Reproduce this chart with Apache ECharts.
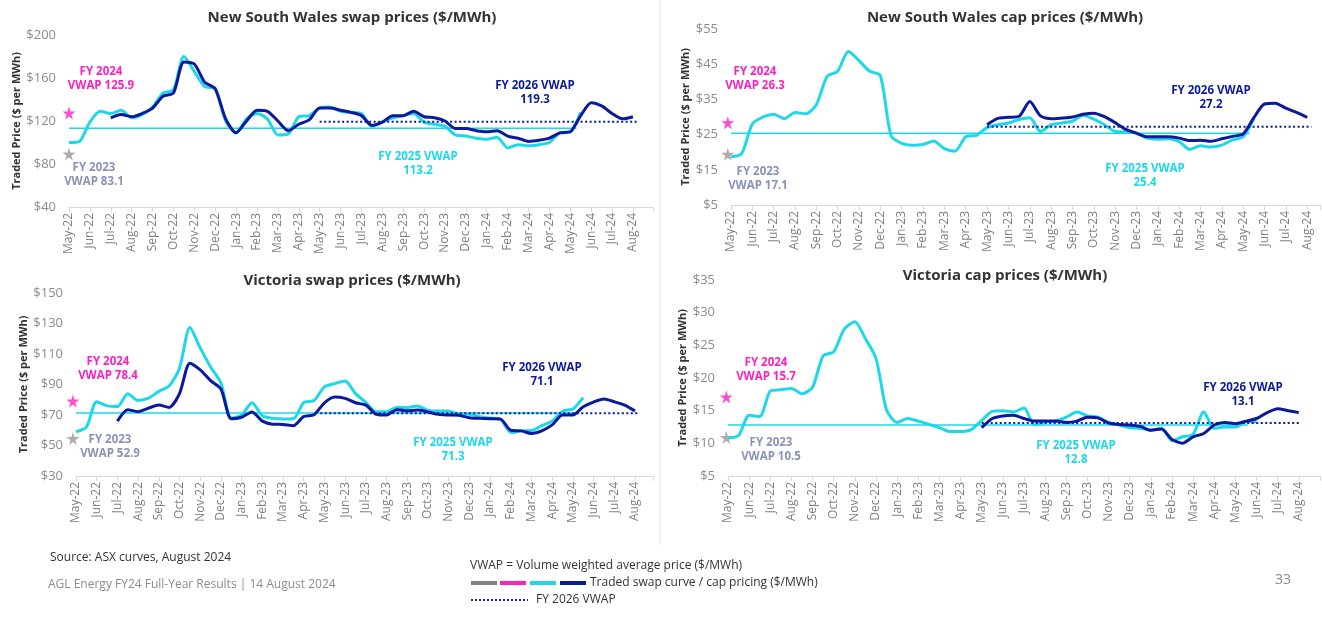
<!DOCTYPE html>
<html>
<head>
<meta charset="utf-8">
<script src="https://cdn.jsdelivr.net/npm/echarts@6/dist/echarts.min.js"></script>
<style>
  html, body { margin: 0; padding: 0; background: #fff; }
  #main { width: 1322px; height: 619px; }
</style>
</head>
<body>
<div id="main"></div>
<script>
// month tick labels, one per month (x = month index, data every half month)
const months = ['May-22', 'Jun-22', 'Jul-22', 'Aug-22', 'Sep-22', 'Oct-22', 'Nov-22', 'Dec-22',
  'Jan-23', 'Feb-23', 'Mar-23', 'Apr-23', 'May-23', 'Jun-23', 'Jul-23', 'Aug-23', 'Sep-23', 'Oct-23',
  'Nov-23', 'Dec-23', 'Jan-24', 'Feb-24', 'Mar-24', 'Apr-24', 'May-24', 'Jun-24', 'Jul-24', 'Aug-24']

// FY2025 curves start May-22, FY2026 curves start at fy26Start (month index)
const nswSwapFy25 = [100, 101, 119, 129, 127, 130, 123, 126, 133, 146, 149, 180, 166, 152, 150, 120, 109, 122, 127, 122,
  107, 108, 124, 125, 132, 133, 129, 128, 127, 115, 119, 123, 125, 127, 119, 117, 115, 107, 106, 104,
  103, 105, 95, 98, 97, 98, 100, 109, 110, 128]
const nswSwapFy26 = [123, 126, 124, 127, 132, 143, 146, 175, 173, 156, 150, 122, 109, 120, 130, 129, 120, 111, 117, 121,
  132, 132, 130, 128, 125, 116, 119, 125, 125, 129, 124, 123, 120, 113, 113, 111, 110, 111, 106, 104,
  101, 102, 104, 109, 110, 125, 137, 134, 127, 122, 124]
const nswCapFy25 = [18.7, 19.6, 28.0, 30.0, 30.8, 29.5, 31.3, 30.9, 33.5, 41.5, 43.0, 48.6, 46.0, 43.0, 41.7, 24.7, 22.5,
  22.0, 22.2, 23.2, 21.0, 20.3, 24.4, 24.8, 27.0, 27.8, 28.3, 29.3, 29.8, 25.9, 27.8, 28.3, 28.8, 30.5,
  29.4, 27.8, 25.9, 25.8, 25.4, 24.0, 23.7, 23.8, 23.0, 20.8, 21.8, 21.5, 22.0, 23.5, 24.4, 29.5]
const nswCapFy26 = [27.8, 29.6, 29.9, 30.2, 34.4, 30.3, 29.5, 29.7, 30.0, 30.8, 31.1, 30.1, 28.4, 26.5, 25.4, 24.4, 24.4,
  24.4, 24.0, 23.3, 23.4, 23.1, 23.8, 24.5, 25.2, 29.8, 33.7, 33.9, 32.5, 31.3, 29.9]
const vicSwapFy25 = [59, 62, 78.7, 76, 75.5, 84, 79.5, 81, 85.5, 89, 100.7, 127.4, 114, 101.5, 91, 68, 70, 78, 69.5, 67.8,
  67.3, 67.5, 78.1, 79.5, 88.5, 90.6, 92.3, 84, 78.3, 72.1, 72.1, 75, 74.8, 75.9, 73, 72.6, 72.6, 70.5,
  70.5, 68.9, 68, 67.3, 58.5, 59.6, 59.8, 63, 66, 72.5, 74, 81.4]
const vicSwapFy26 = [66, 73.5, 72.2, 74.5, 76.5, 75, 84, 104, 99.6, 92.5, 87, 67.5, 68.5, 72, 66, 64, 63.8, 63, 69, 70.2,
  78, 81.8, 80.9, 78, 76.5, 70.5, 70, 73.5, 72.8, 73.2, 72, 70.4, 70, 69.8, 68.2, 67.8, 67.5, 67.3, 60,
  59.6, 57.9, 59.6, 63.5, 70, 70, 75.4, 78.5, 80.5, 78.7, 76.5, 72.6]
const vicCapFy25 = [10.8, 11.2, 14.3, 14.1, 18.0, 18.2, 18.4, 17.6, 18.6, 23.4, 24.0, 27.5, 28.6, 26.0, 23.0, 15.1, 13.2,
  13.8, 13.4, 12.9, 12.4, 11.8, 11.8, 12.1, 13.5, 14.9, 15.0, 14.8, 15.4, 12.8, 13.3, 13.4, 14.0, 14.8,
  14.2, 14.0, 13.2, 12.8, 12.4, 12.3, 12.0, 12.3, 10.4, 11.0, 11.4, 14.8, 12.3, 12.5, 12.5, 13.3, 13.3]
const vicCapFy26 = [12.4, 13.8, 14.2, 14.3, 13.8, 13.4, 13.4, 13.4, 13.2, 13.4, 14.0, 13.9, 13.1, 12.9, 12.8, 12.6, 12.0,
  12.2, 10.6, 10.0, 11.0, 11.5, 12.8, 13.2, 13.0, 13.4, 13.8, 14.7, 15.3, 15.0, 14.7]

const fy26Start = [2, 12, 2, 12]
const vwap25 = [113.2, 25.4, 71.3, 12.8]
const vwap26 = [119.3, 27.2, 71.1, 13.1]
const vwap25Span = [[0, 24.3], [0, 24.3], [0, 24.3], [0, 24.6]]
const vwap26Span = [[12, 27.2], [12, 27.2], [11.8, 27.2], [12, 27]]
const starFy24 = [127.4, 28.4, 79.1, 17.1]
const starFy23 = [89.3, 19.4, 54.6, 10.9]
const starX = [0, -0.15, -0.15, -0.08]

const titles = ['New South Wales swap prices ($/MWh)', 'New South Wales cap prices ($/MWh)',
  'Victoria swap prices ($/MWh)', 'Victoria cap prices ($/MWh)']
const fy24Text = ['FY 2024\nVWAP 125.9', 'FY 2024\nVWAP 26.3', 'FY 2024\nVWAP 78.4', 'FY 2024\nVWAP 15.7']
const fy23Text = ['FY 2023\nVWAP 83.1', 'FY 2023\nVWAP 17.1', 'FY 2023\nVWAP 52.9', 'FY 2023\nVWAP 10.5']
const fy25Text = ['FY 2025 VWAP\n113.2', 'FY 2025 VWAP\n25.4', 'FY 2025 VWAP\n71.3', 'FY 2025 VWAP\n12.8']
const fy26Text = ['FY 2026 VWAP\n119.3', 'FY 2026 VWAP\n27.2', 'FY 2026 VWAP\n71.1', 'FY 2026 VWAP\n13.1']

const fy25Curves = [nswSwapFy25, nswCapFy25, vicSwapFy25, vicCapFy25]
const fy26Curves = [nswSwapFy26, nswCapFy26, vicSwapFy26, vicCapFy26]
const yRange = [[40, 200, 40], [5, 55, 10], [30, 150, 20], [5, 35, 5]]

// layout
const grids = [
  { left: 69, top: 35, width: 584, height: 172 },
  { left: 731, top: 29, width: 589, height: 176 },
  { left: 76, top: 293, width: 577, height: 183 },
  { left: 728, top: 280, width: 592, height: 196 },
]
const xMax = [27.96, 27.6, 27.87, 28]
const nameGap = [46, 36, 46, 39]
const titlePos = [[352, 18], [1005, 18], [352, 281], [1005, 276]]
const fy24Pos = [[101, 79], [755, 79], [108, 369], [766, 370]]
const fy23Pos = [[94, 175], [758, 179], [110, 447], [771, 450]]
const fy25Pos = [[418, 164], [1145, 176], [453, 450], [1076, 453]]
const fy26Pos = [[535, 93], [1211, 98], [542, 375], [1243, 395]]

const CYAN = '#1dd8e8'
const NAVY = '#0b1a9c'
const PINK = '#ff1fbf'
const GREY = '#999999'
const SLATE = '#8a92b8'
const FONT = 'Open Sans'
const STAR = 'path://M50,0 L61,35 L98,35 L68,57 L79,91 L50,70 L21,91 L32,57 L2,35 L39,35 Z'

const pairs = (values, start) => values.map((v, j) => [start + j * 0.5, v])

const note = (text, pos, color, font) => ({
  type: 'text',
  style: {
    text: text, x: pos[0], y: pos[1], fill: color,
    font: font || 'bold 11.5px "Open Sans"', lineHeight: 14,
    align: 'center', verticalAlign: 'middle', textAlign: 'center', textVerticalAlign: 'middle',
  },
})
const plain = (text, x, y, color, size) => ({
  type: 'text',
  style: {
    text: text, x: x, y: y, fill: color, font: size + 'px "Open Sans"',
    verticalAlign: 'middle', textVerticalAlign: 'middle',
  },
})

let xAxis = [], yAxis = [], series = [], graphic = []
grids.forEach((g, k) => {
  xAxis.push({
    type: 'value', gridIndex: k, min: 0, max: xMax[k], interval: 1,
    axisLine: { lineStyle: { color: '#d9d9d9', width: 1 } },
    axisTick: { show: true, length: 5, lineStyle: { color: '#d9d9d9' } },
    splitLine: { show: false },
    axisLabel: {
      rotate: 90, fontSize: 12, color: '#808080', margin: 6, fontFamily: FONT,
      formatter: (v) => months[v] || '',
    },
  })
  yAxis.push({
    type: 'value', gridIndex: k, min: yRange[k][0], max: yRange[k][1], interval: yRange[k][2],
    name: 'Traded Price ($ per MWh)', nameLocation: 'middle', nameGap: nameGap[k],
    nameTextStyle: { fontWeight: 'bold', fontSize: 11, color: '#333', fontFamily: FONT },
    axisLine: { show: false }, axisTick: { show: false }, splitLine: { show: false },
    axisLabel: { fontSize: 13, color: '#8c8c8c', margin: 13, fontFamily: FONT, formatter: (v) => '$' + v },
  })
  series.push({
    type: 'line', xAxisIndex: k, yAxisIndex: k, symbol: 'none', silent: true,
    lineStyle: { color: CYAN, width: 1.6 },
    data: [[vwap25Span[k][0], vwap25[k]], [vwap25Span[k][1], vwap25[k]]],
  })
  series.push({
    type: 'line', xAxisIndex: k, yAxisIndex: k, symbol: 'none', smooth: 0.25,
    lineStyle: { color: CYAN, width: 3 },
    data: pairs(fy25Curves[k], 0),
  })
  series.push({
    type: 'line', xAxisIndex: k, yAxisIndex: k, symbol: 'none', smooth: 0.25,
    lineStyle: { color: NAVY, width: 3 },
    data: pairs(fy26Curves[k], fy26Start[k]),
  })
  series.push({
    type: 'line', xAxisIndex: k, yAxisIndex: k, symbol: 'none', silent: true,
    lineStyle: { color: NAVY, width: 2, type: [2, 2.5] },
    data: [[vwap26Span[k][0], vwap26[k]], [vwap26Span[k][1], vwap26[k]]],
  })
  series.push({
    type: 'scatter', xAxisIndex: k, yAxisIndex: k, symbol: STAR, symbolSize: 13, clip: false, silent: true,
    data: [
      { value: [starX[k], starFy24[k]], itemStyle: { color: PINK } },
      { value: [starX[k], starFy23[k]], itemStyle: { color: GREY } },
    ],
  })
  graphic.push(note(titles[k], titlePos[k], '#333333', 'bold 15px "Open Sans"'))
  graphic.push(note(fy24Text[k], fy24Pos[k], PINK))
  graphic.push(note(fy23Text[k], fy23Pos[k], SLATE))
  graphic.push(note(fy25Text[k], fy25Pos[k], CYAN))
  graphic.push(note(fy26Text[k], fy26Pos[k], NAVY))
})

// divider and footer
graphic.push({ type: 'line', shape: { x1: 660, y1: 0, x2: 660, y2: 545 }, style: { stroke: '#e3e3e3', lineWidth: 1 } })
graphic.push(plain('Source: ASX curves, August 2024', 50, 558, '#333333', 12))
graphic.push(plain('AGL Energy FY24 Full-Year Results | 14 August 2024', 48, 585, '#8c8c8c', 12))
graphic.push(plain('VWAP = Volume weighted average price ($/MWh)', 470, 566, '#333333', 12))
;[['#808080', 471], [PINK, 500], [CYAN, 530], [NAVY, 560]].forEach(([c, x]) => {
  graphic.push({ type: 'rect', shape: { x: x, y: 581, width: 26, height: 4 }, style: { fill: c } })
})
graphic.push(plain('Traded swap curve / cap pricing ($/MWh)', 590, 583, '#333333', 12))
graphic.push({ type: 'line', shape: { x1: 471, y1: 600, x2: 528, y2: 600 }, style: { stroke: NAVY, lineWidth: 2, lineDash: [2, 2] } })
graphic.push(plain('FY 2026 VWAP', 536, 600, '#333333', 12))
graphic.push(plain('33', 1275, 580, '#8c8c8c', 14))

const myChart = echarts.init(document.getElementById('main'))
myChart.setOption({
  animation: false,
  textStyle: { fontFamily: FONT },
  grid: grids,
  xAxis: xAxis,
  yAxis: yAxis,
  series: series,
  graphic: graphic,
})
</script>
</body>
</html>
